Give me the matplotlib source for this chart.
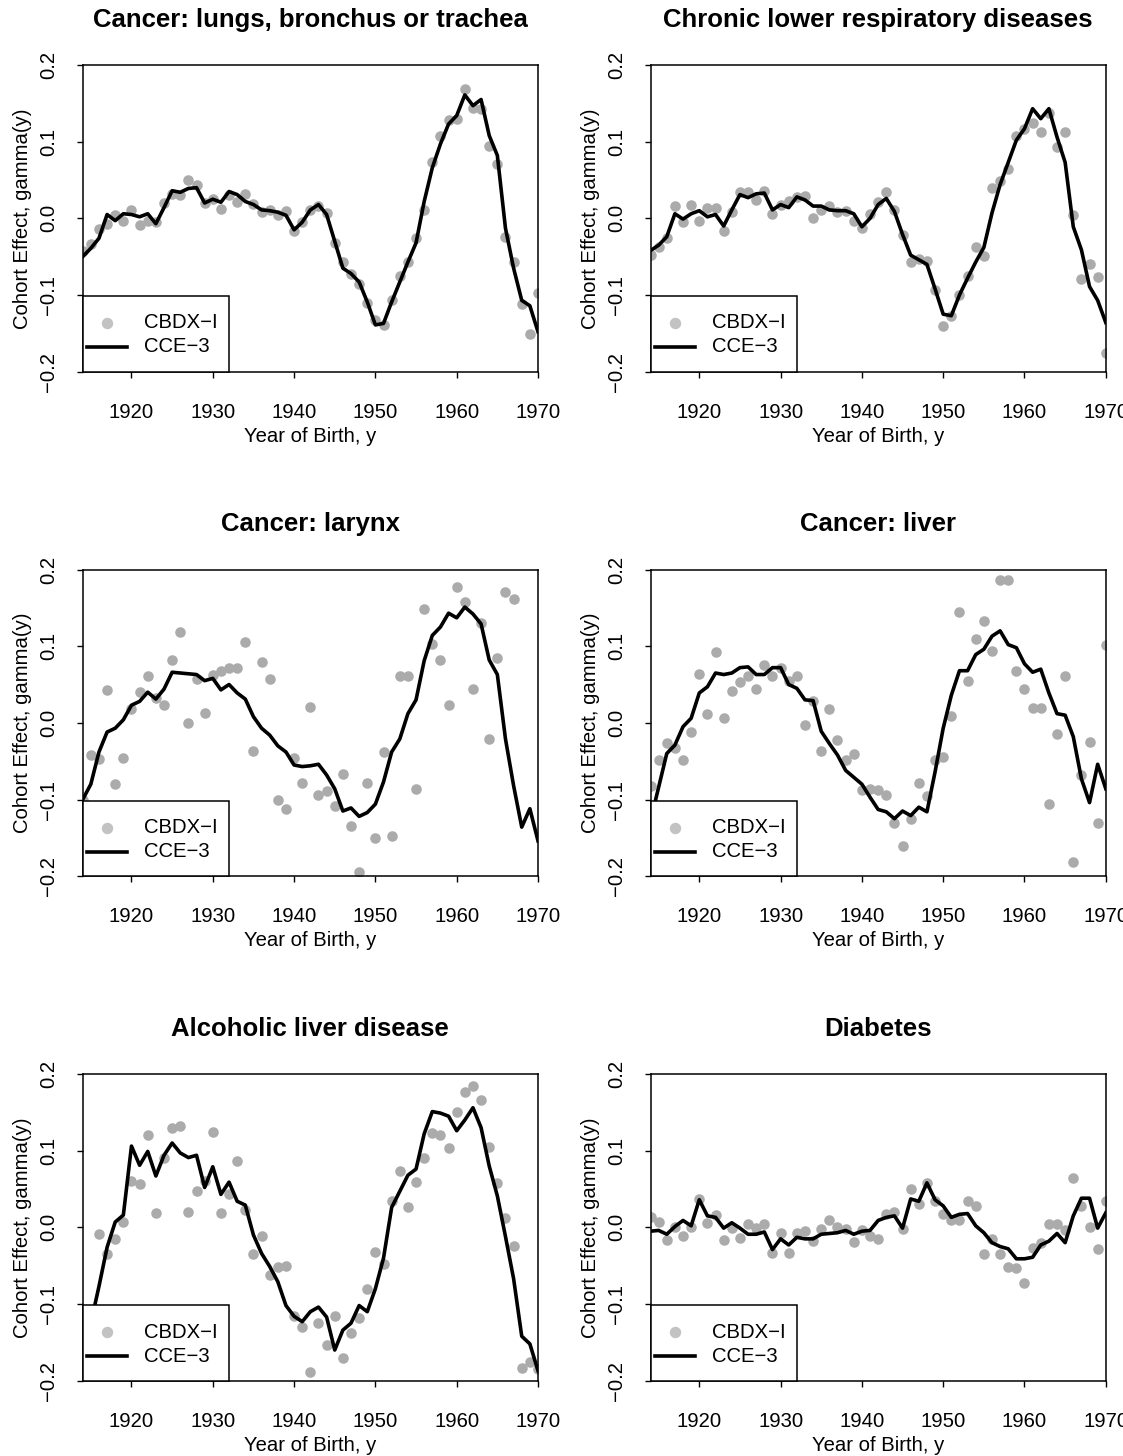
import numpy as np
import matplotlib as mpl
mpl.use('Agg')
import matplotlib.pyplot as plt
from matplotlib.patches import Rectangle
from matplotlib.lines import Line2D

plt.rcParams['font.family'] = ['Liberation Sans', 'DejaVu Sans']

nan = np.nan
years = np.arange(1914, 1971)

titles = ["Cancer: lungs, bronchus or trachea", "Chronic lower respiratory diseases",
          "Cancer: larynx", "Cancer: liver",
          "Alcoholic liver disease", "Diabetes"]

# CCE-3 (line) and CBDX-I (points), one pair per panel
lung_cce = [-0.050, -0.039, -0.026, 0.005, -0.003, 0.006, 0.005, 0.002, 0.006, -0.007,
            0.014, 0.036, 0.034, 0.039, 0.040, 0.020, 0.025, 0.021, 0.035, 0.031,
            0.022, 0.018, 0.011, 0.010, 0.008, 0.004, -0.015, -0.005, 0.011, 0.018,
            0.005, -0.030, -0.065, -0.072, -0.083, -0.109, -0.139, -0.137, -0.109, -0.083,
            -0.057, -0.032, 0.022, 0.066, 0.097, 0.123, 0.134, 0.161, 0.147, 0.155,
            0.108, 0.082, -0.013, -0.065, -0.107, -0.114, -0.148]
lung_cbdx = [-0.042, -0.033, -0.014, -0.008, 0.004, -0.004, 0.011, -0.009, -0.003, -0.005,
             0.020, 0.032, 0.030, 0.050, 0.044, 0.020, 0.025, 0.012, 0.031, 0.021,
             0.032, 0.019, 0.008, 0.011, 0.005, 0.010, -0.016, -0.005, 0.011, 0.016,
             0.007, -0.032, -0.057, -0.072, -0.085, -0.111, -0.132, -0.139, -0.106, -0.075,
             -0.057, -0.025, 0.011, 0.074, 0.107, 0.128, 0.130, 0.169, 0.144, 0.143,
             0.095, 0.071, -0.024, -0.057, -0.112, -0.151, -0.097]

resp_cce = [-0.042, -0.035, -0.024, 0.006, -0.001, 0.006, 0.010, 0.002, 0.005, -0.010,
            0.011, 0.031, 0.027, 0.032, 0.033, 0.011, 0.018, 0.014, 0.028, 0.024,
            0.016, 0.016, 0.011, 0.010, 0.010, 0.006, -0.011, 0.000, 0.018, 0.026,
            0.009, -0.021, -0.048, -0.054, -0.060, -0.092, -0.125, -0.127, -0.100, -0.078,
            -0.057, -0.038, 0.007, 0.044, 0.073, 0.102, 0.117, 0.143, 0.130, 0.143,
            0.106, 0.073, -0.011, -0.041, -0.089, -0.107, -0.136]
resp_cbdx = [-0.048, -0.038, -0.025, 0.016, -0.005, 0.018, -0.003, 0.014, 0.014, -0.016,
             0.008, 0.035, 0.035, 0.024, 0.036, 0.006, 0.018, 0.022, 0.028, 0.029,
             0.000, 0.011, 0.016, 0.008, 0.009, -0.003, -0.013, 0.006, 0.021, 0.034,
             0.011, -0.022, -0.057, -0.053, -0.056, -0.093, -0.140, -0.128, -0.100, -0.075,
             -0.037, -0.049, 0.040, 0.049, 0.065, 0.107, 0.117, 0.124, 0.112, 0.137,
             0.093, 0.113, 0.004, -0.079, -0.060, -0.076, -0.176]

larynx_cce = [-0.100, -0.080, -0.038, -0.012, -0.007, 0.004, 0.023, 0.028, 0.040, 0.031,
              0.044, 0.066, 0.065, 0.064, 0.063, 0.055, 0.058, 0.043, 0.050, 0.039,
              0.031, 0.008, -0.007, -0.016, -0.030, -0.038, -0.055, -0.057, -0.056, -0.054,
              -0.068, -0.086, -0.115, -0.111, -0.122, -0.117, -0.106, -0.077, -0.038, -0.021,
              0.012, 0.030, 0.081, 0.114, 0.125, 0.143, 0.137, 0.151, 0.142, 0.129,
              0.082, 0.063, -0.021, -0.082, -0.136, -0.112, -0.154]
larynx_cbdx = [-0.100, -0.042, -0.047, 0.043, -0.080, -0.046, 0.018, 0.040, 0.061, 0.032,
               0.023, 0.082, 0.118, 0.000, 0.057, 0.013, 0.063, 0.067, 0.071, 0.072,
               0.106, -0.037, 0.080, 0.057, -0.100, -0.113, -0.046, -0.079, 0.021, -0.094,
               -0.089, -0.108, -0.067, -0.135, -0.195, -0.079, -0.150, -0.038, -0.147, 0.061,
               0.061, -0.086, 0.148, 0.103, 0.082, 0.023, 0.177, 0.157, 0.044, 0.130,
               -0.021, 0.084, 0.171, 0.161, nan, nan, nan]

liver_cce = [-0.128, -0.084, -0.040, -0.029, -0.005, 0.006, 0.039, 0.047, 0.065, 0.063,
             0.065, 0.072, 0.073, 0.063, 0.063, 0.072, 0.072, 0.050, 0.045, 0.030,
             0.029, -0.011, -0.027, -0.042, -0.062, -0.071, -0.080, -0.097, -0.113, -0.116,
             -0.125, -0.115, -0.121, -0.110, -0.116, -0.064, -0.007, 0.036, 0.068, 0.068,
             0.089, 0.096, 0.113, 0.120, 0.102, 0.098, 0.077, 0.066, 0.070, 0.039,
             0.012, 0.010, -0.018, -0.073, -0.104, -0.054, -0.086]
liver_cbdx = [-0.083, -0.049, -0.026, -0.033, -0.048, -0.012, 0.064, 0.012, 0.093, 0.006,
              0.041, 0.053, 0.061, 0.044, 0.075, 0.061, 0.072, 0.054, 0.061, -0.003,
              0.029, -0.037, 0.018, -0.022, -0.049, -0.041, -0.087, -0.086, -0.087, -0.094,
              -0.131, -0.160, -0.125, -0.078, -0.096, -0.048, -0.045, 0.009, 0.145, 0.055,
              0.110, 0.133, 0.094, 0.186, 0.186, 0.068, 0.044, 0.020, 0.020, -0.106,
              -0.015, 0.061, -0.182, -0.068, -0.025, -0.131, 0.102]

alc_cce = [-0.170, -0.125, -0.077, -0.026, 0.007, 0.016, 0.106, 0.081, 0.099, 0.067,
           0.094, 0.110, 0.097, 0.091, 0.094, 0.052, 0.079, 0.043, 0.059, 0.034,
           0.029, -0.010, -0.034, -0.051, -0.071, -0.102, -0.116, -0.123, -0.110, -0.104,
           -0.117, -0.160, -0.134, -0.125, -0.102, -0.110, -0.080, -0.040, 0.026, 0.047,
           0.068, 0.076, 0.122, 0.151, 0.149, 0.145, 0.126, 0.140, 0.156, 0.130,
           0.080, 0.041, -0.012, -0.067, -0.142, -0.152, -0.187]
alc_cbdx = [nan, nan, -0.009, -0.035, -0.015, 0.007, 0.061, 0.056, 0.120, 0.019,
            0.090, 0.129, 0.132, 0.020, 0.048, 0.060, 0.124, 0.019, 0.043, 0.086,
            0.023, -0.035, -0.011, -0.062, -0.052, -0.050, -0.116, -0.130, -0.189, -0.125,
            -0.154, -0.116, -0.170, -0.138, -0.118, -0.080, -0.032, -0.048, 0.034, 0.073,
            0.027, 0.059, 0.091, 0.123, 0.121, 0.104, 0.151, 0.176, 0.184, 0.166,
            0.105, 0.058, 0.012, -0.024, -0.184, -0.175, -0.185]

diab_cce = [-0.005, -0.004, -0.009, 0.001, 0.009, 0.002, 0.036, 0.015, 0.013, -0.001,
            0.006, -0.001, -0.009, -0.009, -0.006, -0.029, -0.015, -0.023, -0.013, -0.015,
            -0.015, -0.009, -0.008, -0.007, -0.004, -0.009, -0.005, -0.004, 0.009, 0.013,
            0.015, -0.001, 0.037, 0.034, 0.058, 0.036, 0.028, 0.013, 0.017, 0.018,
            0.002, -0.007, -0.020, -0.025, -0.028, -0.041, -0.041, -0.039, -0.023, -0.018,
            -0.008, -0.020, 0.015, 0.038, 0.038, -0.001, 0.019]
diab_cbdx = [0.014, 0.007, -0.017, 0.001, -0.011, 0.000, 0.037, 0.006, 0.016, -0.017,
             -0.001, -0.014, 0.005, -0.001, 0.004, -0.034, -0.007, -0.034, -0.007, -0.005,
             -0.018, -0.002, 0.010, 0.001, -0.002, -0.019, -0.004, -0.011, -0.015, 0.017,
             0.020, -0.002, 0.050, 0.031, 0.058, 0.034, 0.018, 0.009, 0.010, 0.034,
             0.028, -0.035, -0.015, -0.035, -0.052, -0.053, -0.072, -0.027, -0.020, 0.005,
             0.005, -0.003, 0.064, 0.028, 0.000, -0.028, 0.034]

cce_list = [lung_cce, resp_cce, larynx_cce, liver_cce, alc_cce, diab_cce]
cbdx_list = [lung_cbdx, resp_cbdx, larynx_cbdx, liver_cbdx, alc_cbdx, diab_cbdx]

xticks = [1920, 1930, 1940, 1950, 1960, 1970]
yticks = [-0.2, -0.1, 0.0, 0.1, 0.2]
yticklabels = ['\u22120.2', '\u22120.1', '0.0', '0.1', '0.2']

W, H = 1123, 1456
fig = plt.figure(figsize=(W / 100, H / 100), dpi=100)

col_left = [82.7, 650.5]
ax_w, ax_h = 455.3, 306.7
row_top0, row_step = 65.0, 504.5
fs = 14.6

for i in range(6):
    r, c = divmod(i, 2)
    left = col_left[c]
    top = row_top0 + r * row_step
    bottom = top + ax_h
    ax = fig.add_axes([left / W, 1 - bottom / H, ax_w / W, ax_h / H])

    ax.plot(years, cbdx_list[i], 'o', color='#ababab', markersize=7.6,
            markeredgewidth=0, zorder=2)
    ax.plot(years, cce_list[i], '-', color='black', lw=2.6, zorder=3)

    ax.set_xlim(1914, 1970)
    ax.set_ylim(-0.2, 0.2)
    ax.set_xticks(xticks)
    ax.set_xticklabels([str(t) for t in xticks], fontsize=fs)
    ax.set_yticks(yticks)
    ax.set_yticklabels(yticklabels, fontsize=fs, rotation=90, va='center')
    ax.tick_params(axis='both', direction='out', length=4.3, width=1.0, color='black')
    ax.tick_params(axis='x', pad=18.2)
    ax.tick_params(axis='y', pad=13.2)
    for s in ax.spines.values():
        s.set_linewidth(1.1)

    # legend box in the lower-left corner (R style)
    tr = ax.transAxes
    lw_ax, lh_ax = 146.3 / ax_w, 75.7 / ax_h
    ax.add_patch(Rectangle((0, 0), lw_ax, lh_ax, transform=tr, facecolor='white',
                           edgecolor='black', lw=1.1, zorder=5, clip_on=False))
    ax.add_line(Line2D([24.0 / ax_w], [48.7 / ax_h], transform=tr, marker='o',
                       color='#c2c2c2', markersize=8.2, markeredgewidth=0, zorder=6))
    ax.add_line(Line2D([4.0 / ax_w, 44.0 / ax_w], [24.7 / ax_h, 24.7 / ax_h],
                       transform=tr, color='black', lw=2.6, zorder=6))
    ax.text(61.3 / ax_w, 48.7 / ax_h, 'CBDX\u2212I', transform=tr, fontsize=fs,
            ha='left', va='center', zorder=7)
    ax.text(61.3 / ax_w, 24.7 / ax_h, 'CCE\u22123', transform=tr, fontsize=fs,
            ha='left', va='center', zorder=7)

    cx = left + ax_w / 2
    fig.text(cx / W, 1 - (top - 38.3) / H, titles[i], fontsize=18.5, weight='bold',
             ha='center', va='baseline')
    fig.text(cx / W, 1 - (bottom + 70.3) / H, 'Year of Birth, y', fontsize=fs,
             ha='center', va='baseline')
    fig.text((left - 59.7) / W, 1 - (top + ax_h / 2) / H, 'Cohort Effect, gamma(y)',
             fontsize=fs, rotation=90, ha='center', va='center')

fig.savefig('out.png', dpi=100)
